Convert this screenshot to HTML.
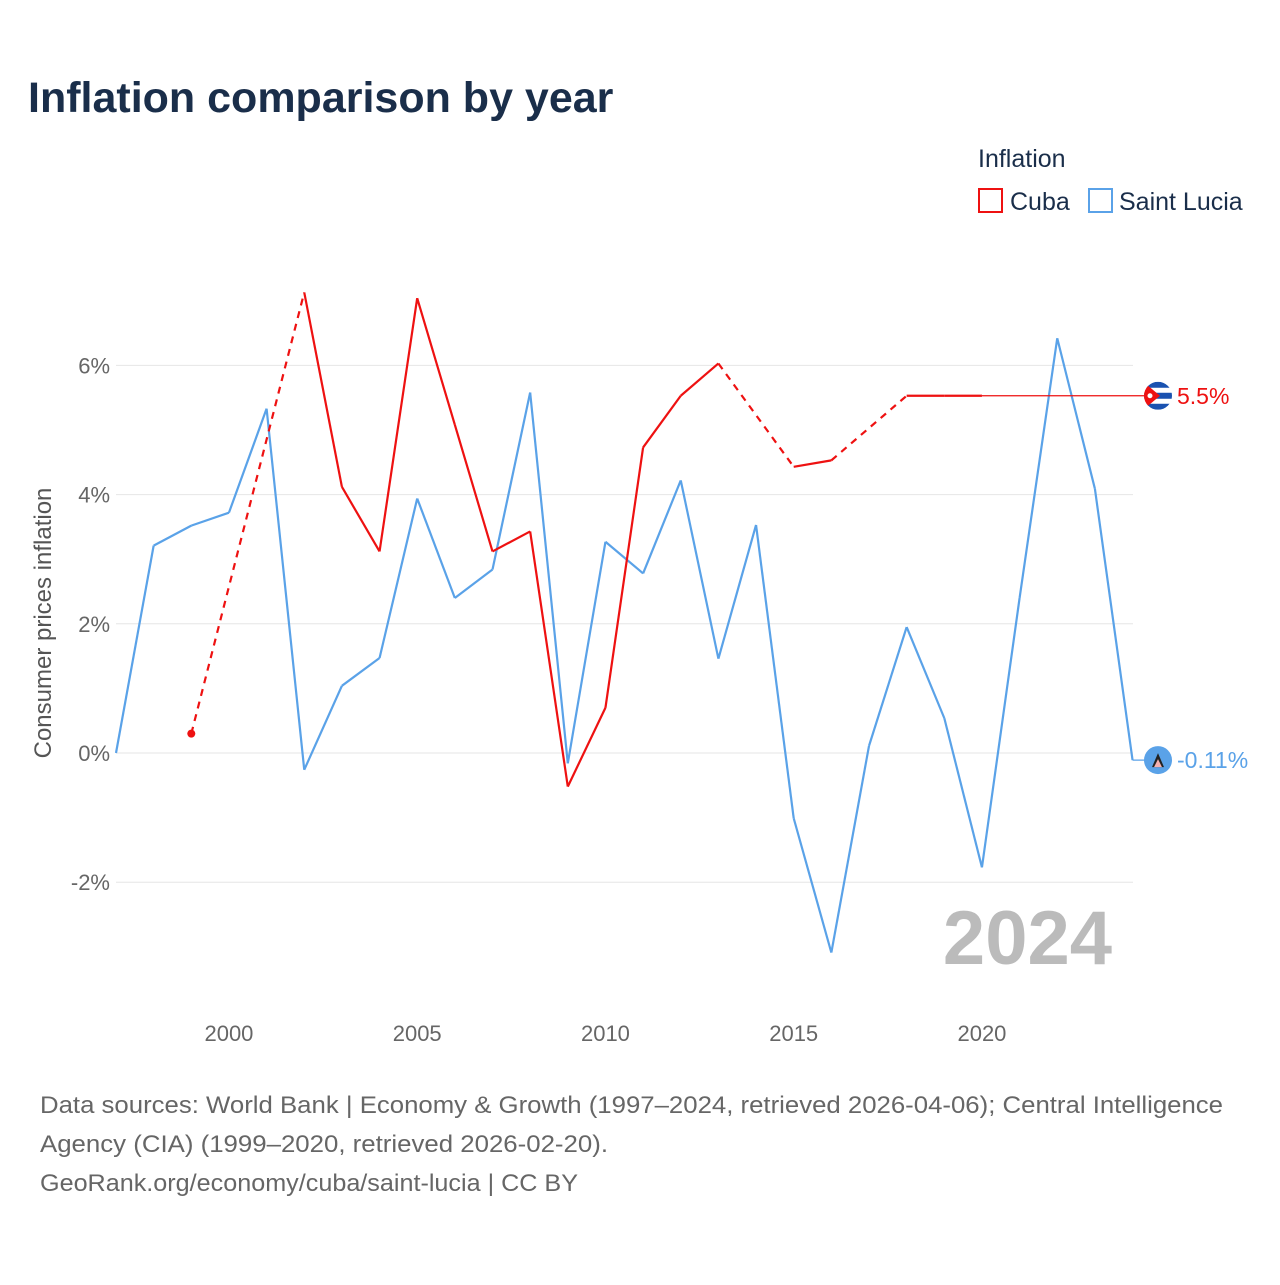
<!DOCTYPE html>
<html><head><meta charset="utf-8"><style>
body{margin:0;background:#fff;font-family:"Liberation Sans",sans-serif;}
svg text{font-family:"Liberation Sans",sans-serif;}
</style></head><body>
<svg id="chart" width="1280" height="1280" xmlns="http://www.w3.org/2000/svg">
<defs>
<clipPath id="cclip"><circle id="cclipc" cx="1158" cy="0" r="14"/></clipPath>
</defs>
<rect width="1280" height="1280" fill="#fff"/>
<text x="28" y="112" font-size="43" font-weight="bold" fill="#1a2e4a">Inflation comparison by year</text>
<text x="978" y="167" font-size="25" fill="#1a2e4a">Inflation</text>
<g><rect x="979" y="189" width="23" height="23" fill="none" stroke="#ee1111" stroke-width="2"/><text x="1010" y="210" font-size="25" fill="#1a2e4a">Cuba</text></g>
<g><rect x="1089" y="189" width="23" height="23" fill="none" stroke="#5aa2e8" stroke-width="2"/><text x="1119" y="210" font-size="25" fill="#1a2e4a">Saint Lucia</text></g>
<text transform="translate(51,623) rotate(-90)" text-anchor="middle" font-size="24" fill="#555">Consumer prices inflation</text>
<g id="grid"></g><g id="series"></g>
<text x="1112" y="964" text-anchor="end" font-size="76" font-weight="bold" fill="#bbb">2024</text>
<g font-size="24" fill="#666">
<text x="40" y="1113" textLength="1183" lengthAdjust="spacingAndGlyphs">Data sources: World Bank | Economy &amp; Growth (1997–2024, retrieved 2026-04-06); Central Intelligence</text>
<text x="40" y="1152" textLength="568" lengthAdjust="spacingAndGlyphs">Agency (CIA) (1999–2020, retrieved 2026-02-20).</text>
<text x="40" y="1191" textLength="538" lengthAdjust="spacingAndGlyphs">GeoRank.org/economy/cuba/saint-lucia | CC BY</text>
</g>
</svg>
<script>
const years=[1997,1998,1999,2000,2001,2002,2003,2004,2005,2006,2007,2008,2009,2010,2011,2012,2013,2014,2015,2016,2017,2018,2019,2020,2021,2022,2023,2024];
const stLucia=[0,3.21,3.52,3.72,5.33,-0.26,1.04,1.47,3.94,2.40,2.84,5.58,-0.16,3.27,2.78,4.22,1.46,3.53,-1.01,-3.09,0.11,1.95,0.54,-1.77,2.4,6.42,4.09,-0.11];
const cuba=[null,null,0.3,null,null,7.13,4.12,3.12,7.04,5.08,3.12,3.43,-0.52,0.70,4.73,5.53,6.03,null,4.43,4.53,null,5.53,5.53,5.53,null,null,null,null];
const endLabels=['5.5%','-0.11%'];
const yTicks=[-2,0,2,4,6];
const xTicks=[2000,2005,2010,2015,2020];
const NS="http://www.w3.org/2000/svg";
const X=y=>116+(y-1997)*37.65, Y=v=>753-v*64.6;
function mk(t,a,p){const e=document.createElementNS(NS,t);for(const k in a)e.setAttribute(k,a[k]);p.appendChild(e);return e;}
const grid=document.getElementById('grid'),ser=document.getElementById('series');
yTicks.forEach(v=>{
 const l=mk('line',{x1:116,x2:1133,y1:Y(v),y2:Y(v),stroke:'#e6e6e6','stroke-width':1},grid);
 
 
 const t=mk('text',{x:110,y:Y(v)+8,'text-anchor':'end','font-size':22,fill:'#666'},grid);t.textContent=v+'%';
 
 
});
xTicks.forEach(y=>{
 const t=mk('text',{x:X(y),y:1041,'text-anchor':'middle','font-size':22,fill:'#666'},grid);t.textContent=y;
 
 
});
function draw(vals,color,name){
 const g=mk('g',{},ser);
 
 
 let prev=null;
 vals.forEach((v,i)=>{
  if(v==null)return;
  if(prev!=null){
   const a={x1:X(years[prev]),y1:Y(vals[prev]),x2:X(years[i]),y2:Y(v),stroke:color,'stroke-width':2.2};
   if(i-prev>1)a['stroke-dasharray']='7,6';
   mk('line',a,g);
  }
  prev=i;
 });
 return prev;
}
draw(stLucia,'#5aa2e8','saint-lucia');
const lastC=draw(cuba,'#ee1111','cuba');
const d=mk('circle',{cx:X(1999),cy:Y(cuba[2]),r:4,fill:'#ee1111'},ser);


const cv=cuba[lastC];
const hl=mk('line',{x1:X(years[lastC]),y1:Y(cv),x2:1150,y2:Y(cv),stroke:'#ee1111','stroke-width':1.2},ser);


const sv=stLucia[stLucia.length-1];
const sl=mk('line',{x1:X(2024),y1:Y(sv),x2:1150,y2:Y(sv),stroke:'#5aa2e8','stroke-width':1.2},ser);


// flags
const cy=Y(cv);
document.getElementById('cclipc').setAttribute('cy',cy);
const cf=mk('g',{'clip-path':'url(#cclip)'},ser);


mk('rect',{x:1140,y:cy-16,width:36,height:32,fill:'#fff'},cf);
[-14,-3,8].forEach(o=>mk('rect',{x:1140,y:cy+o,width:36,height:6,fill:'#1a52b0'},cf));
mk('path',{d:`M1142 ${cy-15} L1160 ${cy} L1142 ${cy+15} Z`,fill:'#ee1111'},cf);
mk('circle',{cx:1150,cy:cy,r:2.5,fill:'#fff'},cf);
const ct=mk('text',{x:1177,y:cy+8,'font-size':23,fill:'#ee1111'},ser);ct.textContent=endLabels[0];


const lf=mk('g',{},ser);


const ly=Y(sv);
mk('circle',{cx:1158,cy:ly,r:14,fill:'#5aa2e8'},lf);
mk('path',{d:`M1158 ${ly-7} L1164 ${ly+7} L1152 ${ly+7} Z`,fill:'#222'},lf);
mk('path',{d:`M1158 ${ly-1} L1162 ${ly+7} L1154 ${ly+7} Z`,fill:'#f4b0b0'},lf);
const lt=mk('text',{x:1177,y:ly+8,'font-size':23,fill:'#5aa2e8'},ser);lt.textContent=endLabels[1];


</script>
</body></html>
